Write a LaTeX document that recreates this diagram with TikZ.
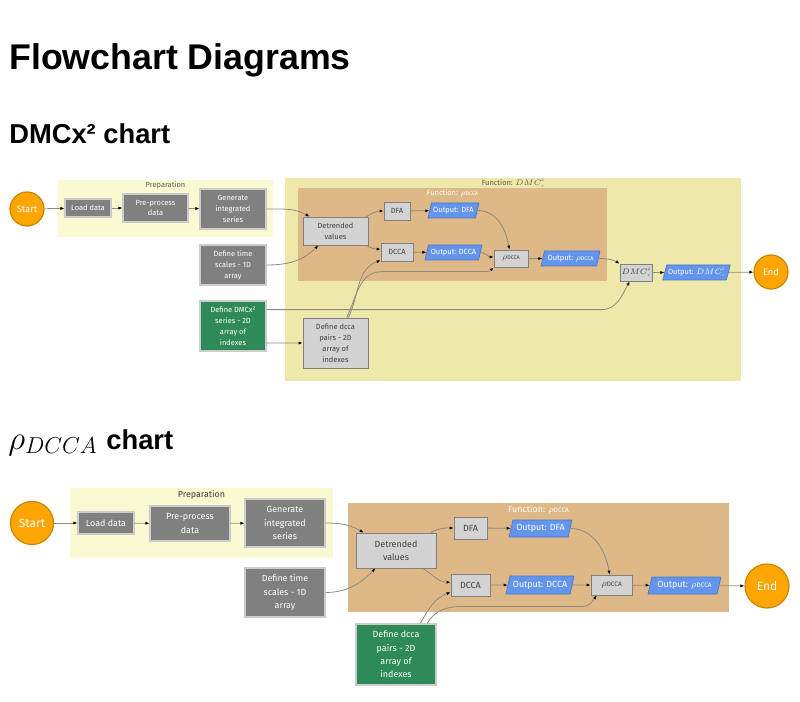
\documentclass[tikz,border=0pt]{standalone}
\usepackage{fontspec}
\setmainfont{Fira Sans}
\newfontfamily\headfont{Liberation Sans}
\usetikzlibrary{arrows.meta,shapes.geometric,calc,positioning}
\definecolor{termfill}{HTML}{FFA500}
\definecolor{termline}{HTML}{C98600}
\definecolor{prepfill}{HTML}{FAFAD2}
\definecolor{dmcfill}{HTML}{EEE8AA}
\definecolor{rhofill}{HTML}{DEB887}
\definecolor{darkfill}{HTML}{808080}
\definecolor{lightfill}{HTML}{D3D3D3}
\definecolor{greenfill}{HTML}{2E8B57}
\definecolor{outfill}{HTML}{6495ED}
\definecolor{outline}{HTML}{4A77C9}
\definecolor{flowline}{HTML}{8E8A80}
\newcommand{\rhod}{$\rho$\scalebox{0.72}{DCCA}}
\newcommand{\dmcx}{$DMC$\rlap{\raisebox{0.5em}{\scalebox{0.5}{$2$}}}\raisebox{-0.25em}{\scalebox{0.5}{$x$}}}
\newcommand{\topfont}{\fontsize{5.6}{8.2}\selectfont}
\newcommand{\lowfont}{\fontsize{6.7}{10}\selectfont}
\tikzstyle{edge}    =[draw=flowline, line width=0.6pt,
                      -{Latex[length=3pt,width=2.4pt,color=black]}]
\tikzstyle{termnode}=[circle, draw=termline, line width=0.9pt,
                      fill=termfill, text=white, inner sep=0pt]
\tikzstyle{graybox} =[rectangle, draw=black!20, line width=0.8pt,
                      fill=darkfill, text=white, align=center, inner sep=1pt]
\tikzstyle{lightbox}=[rectangle, draw=black!50, line width=0.6pt,
                      fill=lightfill, text=black!75, align=center, inner sep=1pt]
\tikzstyle{greenbox}=[rectangle, draw=black!20, line width=0.8pt,
                      fill=greenfill, text=white, align=center, inner sep=1pt]
\tikzstyle{outbox}  =[trapezium, trapezium left angle=70, trapezium right angle=110,
                      trapezium stretches body, draw=outline, line width=0.5pt,
                      fill=outfill, text=white, inner sep=1pt]
\tikzstyle{grouplabel}=[inner sep=0pt]
\tikzstyle{heading} =[anchor=base west, inner sep=0pt]
\tikzset{wh/.style 2 args={minimum width=#1*0.75pt, minimum height=#2*0.75pt}}

\begin{document}
\begin{tikzpicture}[x=0.75pt, y=0.75pt]
\useasboundingbox (0,0) rectangle (800,-702);

% headings
\node[heading, font=\headfont\bfseries\fontsize{26.8}{30}\selectfont] (title) at (9,-70) {Flowchart Diagrams};
\node[heading, font=\headfont\bfseries\fontsize{20.5}{24}\selectfont] (head1) at (9,-144) {DMCx² chart};
\node[heading] (head2) at (8,-449) {\fontsize{25}{28}\selectfont$\rho_{DCCA}$ \headfont\bfseries\fontsize{20.5}{24}\selectfont chart};

% DMCx^2 chart
\begin{scope}[every node/.append style={font=\topfont}]
    \fill[prepfill] (58,-180) rectangle (273,-237);
    \node[grouplabel, text=black!65] (preplab1) at (165.5,-185) {Preparation};
    \fill[dmcfill] (285,-178) rectangle (741,-381);
    \node[grouplabel, text=black!65] (fdmclab) at (513,-183) {Function: \dmcx};
    \fill[rhofill] (298,-188) rectangle (607,-281);
    \node[grouplabel, text=white] (frholab1) at (452.5,-193) {Function: \rhod};

    \node[termnode, wh={34}{34}, font=\fontsize{7}{7}\selectfont] (start1) at (27,-209) {Start};
    \node[graybox, wh={46}{18}] (load1) at (88,-208) {Load data};
    \node[graybox, wh={65}{28}] (pre1) at (155.5,-208) {Pre-process\\data};
    \node[graybox, wh={66}{40}] (gen1) at (233,-209) {Generate\\integrated\\series};
    \node[graybox, wh={66}{40}] (time1) at (233,-265) {Define time\\scales - 1D\\array};
    \node[greenbox, wh={66}{50}] (dmcs1) at (233,-326) {Define DMCx²\\series - 2D\\array of\\indexes};
    \node[lightbox, wh={65}{28}] (det1) at (335.5,-231) {Detrended\\values};
    \node[lightbox, wh={26}{18}] (dfa1) at (397,-211) {DFA};
    \node[lightbox, wh={32}{18}] (dcca1) at (397,-252) {DCCA};
    \node[outbox, wh={51}{15}] (odfa1) at (453.5,-210.5) {Output: DFA};
    \node[outbox, wh={57}{15}] (odcca1) at (453.5,-252.5) {Output: DCCA};
    \node[lightbox, wh={34}{17}] (rho1) at (511,-258.5) {\rhod};
    \node[outbox, wh={59}{15}] (orho1) at (570.5,-258.5) {Output: \rhod};
    \node[lightbox, wh={32}{17}] (dmc1) at (636,-272.5) {\dmcx};
    \node[outbox, wh={63}{15}] (odmc1) at (696.5,-272.5) {Output: \dmcx};
    \node[termnode, wh={34}{34}, font=\fontsize{7}{7}\selectfont] (end1) at (771,-272) {End};
    \node[lightbox, wh={65}{50}] (pairs1) at (335.5,-343) {Define dcca\\pairs - 2D\\array of\\indexes};

    \draw[edge] (start1) -- (load1);
    \draw[edge] (load1) -- (pre1);
    \draw[edge] (pre1) -- (gen1);
    \draw[edge] (gen1.east) to[out=0,in=150] (det1.151);
    \draw[edge] (time1.east) to[out=0,in=225] (det1.220);
    \draw[edge] (det1.25) to[out=30,in=180] (dfa1.west);
    \draw[edge] (det1.-25) to[out=-30,in=180] (dcca1.170);
    \draw[edge] (dfa1) -- (odfa1);
    \draw[edge] (dcca1) -- (odcca1);
    \draw[edge] (odfa1.east) to[out=0,in=100] (rho1.100);
    \draw[edge] (odcca1.east) to[out=0,in=180] (rho1.175);
    \draw[edge] (rho1) -- (orho1);
    \draw[edge] (orho1.east) to[out=0,in=150] (dmc1.north west);
    \draw[edge] (dmc1) -- (odmc1);
    \draw[edge] (odmc1) -- (end1);
    \draw[edge] (dmcs1.26) -- ++(335,0) to[out=0,in=240] (dmc1.235);
    \draw[edge] (dmcs1.-27) -- (pairs1.west);
    \draw[edge] (pairs1.63) to[out=65,in=200] (dcca1.207);
    \draw[edge] (pairs1.66) to[out=65,in=180] ++(35,46) -- ++(105,0) to[out=0,in=225] (rho1.south west);
\end{scope}

% rho_DCCA chart
\begin{scope}[every node/.append style={font=\lowfont}]
    \fill[prepfill] (70,-488) rectangle (333,-558);
    \node[grouplabel, text=black!75] (preplab2) at (201.5,-495) {Preparation};
    \fill[rhofill] (348,-503) rectangle (729,-612);
    \node[grouplabel, text=white] (frholab2) at (538.5,-510) {Function: \rhod};

    \node[termnode, wh={43}{43}, font=\fontsize{9}{9}\selectfont] (start2) at (32,-523) {Start};
    \node[graybox, wh={56}{22}] (load2) at (106,-523) {Load data};
    \node[graybox, wh={80}{35}] (pre2) at (190,-523.5) {Pre-process\\data};
    \node[graybox, wh={80}{48}] (gen2) at (285,-523) {Generate\\integrated\\series};
    \node[graybox, wh={80}{49}] (time2) at (285,-592.5) {Define time\\scales - 1D\\array};
    \node[lightbox, wh={80}{35}] (det2) at (396,-550.5) {Detrended\\values};
    \node[lightbox, wh={33}{22}] (dfa2) at (470.5,-528) {DFA};
    \node[lightbox, wh={39}{22}] (dcca2) at (470.5,-585) {DCCA};
    \node[outbox, wh={63}{17}] (odfa2) at (540.5,-528.5) {Output: DFA};
    \node[outbox, wh={68}{18}] (odcca2) at (540,-585) {Output: DCCA};
    \node[lightbox, wh={41}{20}] (rho2) at (611.5,-585) {\rhod};
    \node[outbox, wh={73}{17}] (orho2) at (684.5,-585.5) {Output: \rhod};
    \node[termnode, wh={44}{44}, font=\fontsize{9}{9}\selectfont] (end2) at (767,-586) {End};
    \node[greenbox, wh={80}{61}] (pairs2) at (396,-654.5) {Define dcca\\pairs - 2D\\array of\\indexes};

    \draw[edge] (start2) -- (load2);
    \draw[edge] (load2) -- (pre2);
    \draw[edge] (pre2) -- (gen2);
    \draw[edge] (gen2.east) to[out=0,in=150] (det2.151);
    \draw[edge] (time2.east) to[out=0,in=225] (det2.221);
    \draw[edge] (det2.27) to[out=30,in=180] (dfa2.west);
    \draw[edge] (det2.-34) to[out=-30,in=180] (dcca2.172);
    \draw[edge] (dfa2) -- (odfa2);
    \draw[edge] (dcca2) -- (odcca2);
    \draw[edge] (odfa2.east) to[out=0,in=100] (rho2.100);
    \draw[edge] (odcca2.east) -- (rho2.west);
    \draw[edge] (rho2) -- (orho2);
    \draw[edge] (orho2) -- (end2);
    \draw[edge] (pairs2.52) to[out=60,in=200] (dcca2.200);
    \draw[edge] (pairs2.45) to[out=60,in=180] ++(35,17) -- ++(120,0) to[out=0,in=235] (rho2.215);
\end{scope}
\end{tikzpicture}
\end{document}
